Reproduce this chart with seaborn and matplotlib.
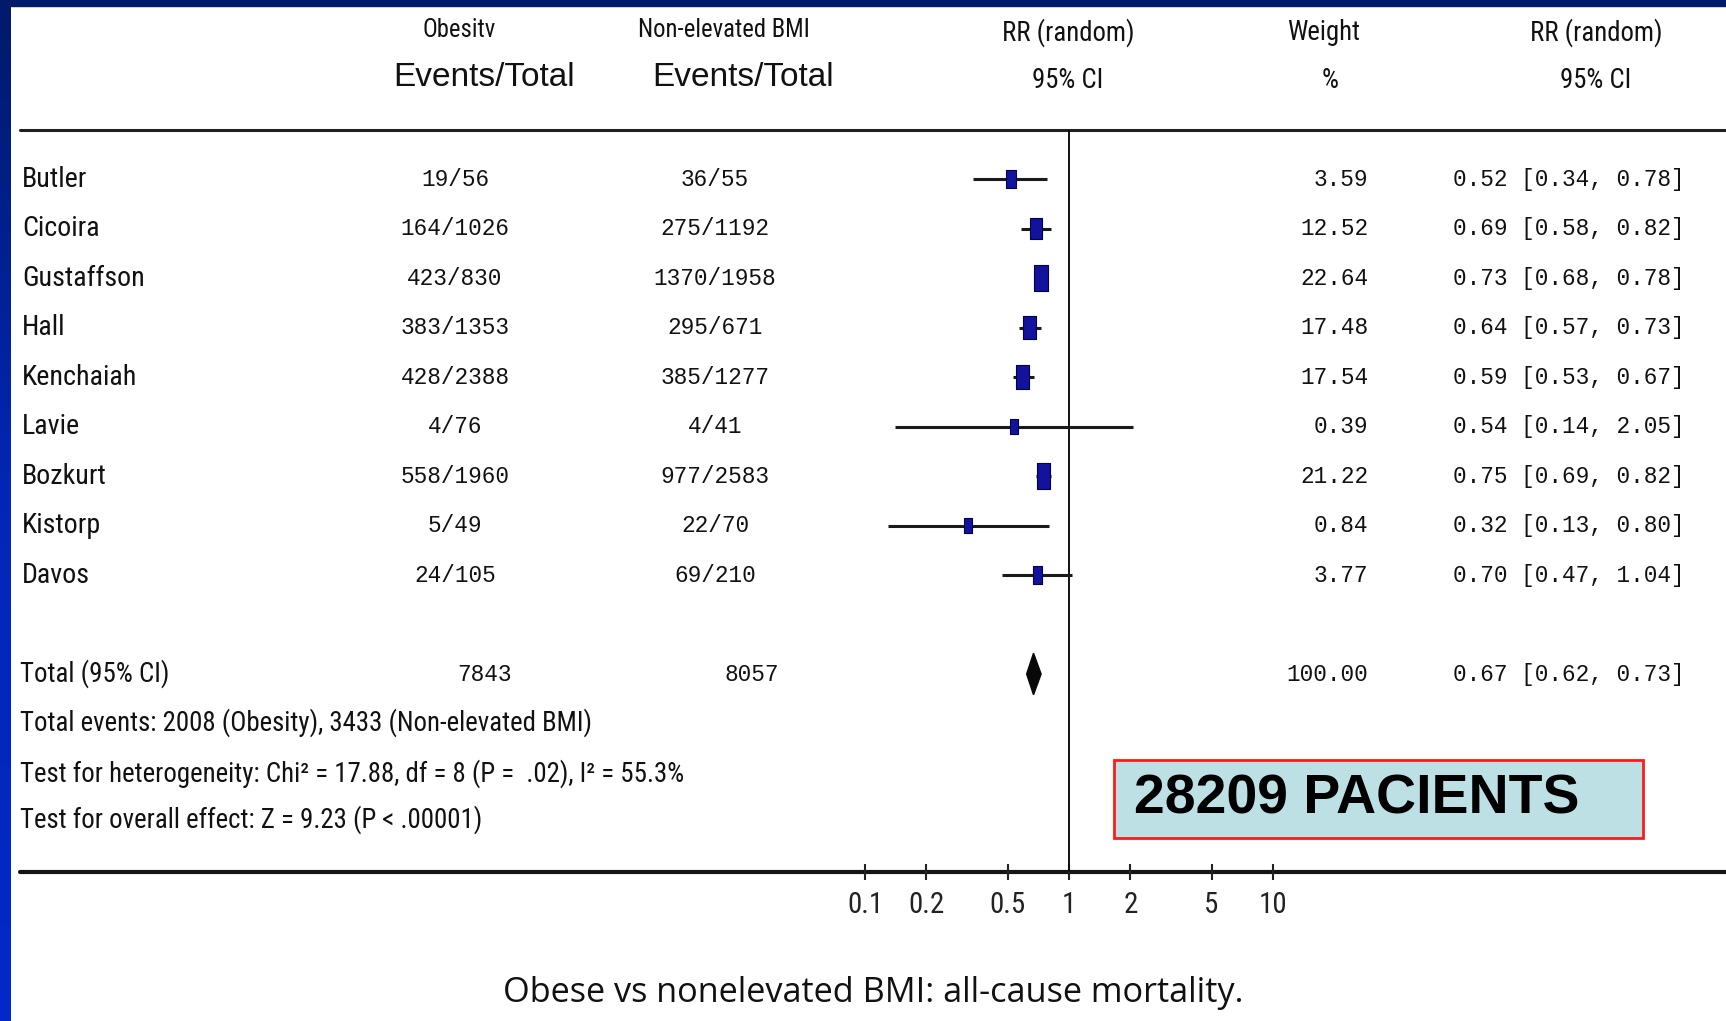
# Forest plot: obese vs non-elevated BMI, all-cause mortality
import numpy as np
import pandas as pd
import seaborn as sns
import matplotlib.pyplot as plt
import matplotlib.transforms as mtransforms
from matplotlib import font_manager as fm
from matplotlib.path import Path
from matplotlib.patches import Rectangle
from matplotlib.colors import LinearSegmentedColormap

sns.set_theme(style="white")

# data
studies = ['Butler', 'Cicoira', 'Gustaffson', 'Hall', 'Kenchaiah', 'Lavie', 'Bozkurt', 'Kistorp', 'Davos']
obese_events = ['19/56', '164/1026', '423/830', '383/1353', '428/2388', '4/76', '558/1960', '5/49', '24/105']
normal_events = ['36/55', '275/1192', '1370/1958', '295/671', '385/1277', '4/41', '977/2583', '22/70', '69/210']
weights = [3.59, 12.52, 22.64, 17.48, 17.54, 0.39, 21.22, 0.84, 3.77]
rr = [0.52, 0.69, 0.73, 0.64, 0.59, 0.54, 0.75, 0.32, 0.70]
rr_lo = [0.34, 0.58, 0.68, 0.57, 0.53, 0.14, 0.69, 0.13, 0.47]
rr_hi = [0.78, 0.82, 0.78, 0.73, 0.67, 2.05, 0.82, 0.80, 1.04]
total_obese = '7843'
total_normal = '8057'
total_weight = 100.00
total_rr, total_lo, total_hi = 0.67, 0.62, 0.73
ticks = [0.1, 0.2, 0.5, 1, 2, 5, 10]
tick_labels = ['0.1', '0.2', '0.5', '1', '2', '5', '10']
summary = ['Total events: 2008 (Obesity), 3433 (Non-elevated BMI)',
           'Test for heterogeneity: Chi² = 17.88, df = 8 (P =  .02), I² = 55.3%',
           'Test for overall effect: Z = 9.23 (P < .00001)']
caption = 'Obese vs nonelevated BMI: all-cause mortality.'
box_text = '28209 PACIENTS'

df = pd.DataFrame({'study': studies, 'rr': rr, 'lo': rr_lo, 'hi': rr_hi, 'weight': weights})
df['row'] = np.arange(len(df))
total_row = len(df) + 1


# pick a condensed sans if one is around
def pick_narrow():
    for fam in ['Liberation Sans Narrow', 'Roboto Condensed', 'Noto Sans Condensed',
                'Open Sans Condensed', 'DejaVu Sans Condensed', 'Arial Narrow']:
        try:
            fm.findfont(fm.FontProperties(family=fam), fallback_to_default=False)
            return fam, 'normal'
        except Exception:
            pass
    for fam in ['Noto Sans', 'DejaVu Sans', 'Open Sans', 'Roboto']:
        try:
            p = fm.findfont(fm.FontProperties(family=fam, stretch='condensed'), fallback_to_default=False)
            if 'ondensed' in p or 'arrow' in p:
                return fam, 'condensed'
        except Exception:
            pass
    return 'Liberation Sans', 'normal'


narrow_fam, narrow_stretch = pick_narrow()
NARROW = [narrow_fam, 'DejaVu Sans']
MONO = ['Liberation Mono', 'DejaVu Sans Mono']
SANS = ['Liberation Sans', 'DejaVu Sans']
CAP = ['Open Sans', 'DejaVu Sans']
plt.rcParams['font.family'] = NARROW

W, H = 1726, 1021
fig = plt.figure(figsize=(W / 100, H / 100), dpi=100)
fig.patch.set_facecolor('white')
renderer = fig.canvas.get_renderer()


def size_for(s, family, target_px, weight='normal', stretch='normal'):
    fp = fm.FontProperties(family=family, size=10, weight=weight, stretch=stretch)
    w, _, _ = renderer.get_text_width_height_descent(s, fp, ismath=False)
    return 10 * target_px / w


fs_name = size_for('Kenchaiah', NARROW, 115, stretch=narrow_stretch)
fs_sum = size_for(summary[1], NARROW, 660, stretch=narrow_stretch)
fs_hdr = size_for('RR (random)', NARROW, 132, stretch=narrow_stretch)
fs_tick = size_for('0.5', NARROW, 36, stretch=narrow_stretch)
fs_ev = size_for('Events/Total', SANS, 182)
fs_cap = size_for(caption, CAP, 742)
fs_box = size_for(box_text, SANS, 443, weight='bold')
fs_num = size_for('164/1026', MONO, 110)

# background axes in pixel units
bg = fig.add_axes([0, 0, 1, 1])
bg.set_xlim(0, W)
bg.set_ylim(H, 0)
bg.axis('off')

# blue frame
grad = np.linspace(0, 1, 256).reshape(-1, 1)
cmap = LinearSegmentedColormap.from_list('frame', ['#011a6a', '#0227b8', '#0229c8'])
bg.imshow(grad, cmap=cmap, extent=(0, 10, H, 0), aspect='auto', zorder=5)
bg.add_patch(Rectangle((0, 0), W, 6, color='#011a6a', zorder=6))

# rule lines
bg.plot([20, W], [130, 130], color='#202020', lw=2.2)
bg.plot([20, W], [872, 872], color='#151515', lw=3)

# forest axes
y_top, y_bot = 130, 872
row0, dy = 179, 49.5
ax = fig.add_axes([865 / W, 1 - y_bot / H, 408 / W, (y_bot - y_top) / H])
ax.set_xscale('log')
ax.set_xlim(0.1, 10)
ax.set_ylim((y_bot - row0) / dy, (y_top - row0) / dy)
ax.patch.set_alpha(0)
for s in ax.spines.values():
    s.set_visible(False)
ax.axvline(1, color='#111111', lw=1.4, zorder=1)
ax.hlines(df['row'], df['lo'], df['hi'], color='#1a1a1a', lw=2.2, zorder=2)
rect = Path([(-0.27, -0.5), (0.27, -0.5), (0.27, 0.5), (-0.27, 0.5), (-0.27, -0.5)], closed=True)
sns.scatterplot(data=df, x='rr', y='row', size='weight', sizes=(117, 350), marker=rect,
                color='#12129c', edgecolor='#000050', linewidth=0.8, legend=False, ax=ax, zorder=3)
ax.fill([total_lo, total_rr, total_hi, total_rr],
        [total_row, total_row - 0.42, total_row, total_row + 0.42], color='#080808', zorder=3)
ax.set_xticks(ticks)
ax.set_xticklabels(tick_labels, fontsize=fs_tick, family=NARROW, fontstretch=narrow_stretch, color='#222222')
ax.minorticks_off()
ax.set_yticks([])
ax.tick_params(axis='x', direction='inout', length=12, width=1.5, color='#222222', pad=8, bottom=True)
ax.set_xlabel('')
ax.set_ylabel('')

txt = '#111111'
nkw = dict(family=NARROW, fontstretch=narrow_stretch, color=txt)
mkw = dict(family=MONO, fontsize=fs_num, color=txt, va='center')

# row texts: x in pixels, y in row units
tr = mtransforms.blended_transform_factory(bg.transData, ax.transData)
for i, r in df.iterrows():
    y = r['row']
    bg.text(22, y, r['study'], transform=tr, fontsize=fs_name, va='center', ha='left', **nkw)
    bg.text(455, y, obese_events[i], transform=tr, ha='center', **mkw)
    bg.text(715, y, normal_events[i], transform=tr, ha='center', **mkw)
    bg.text(1368, y, f"{r['weight']:.2f}", transform=tr, ha='right', **mkw)
    bg.text(1453, y, f"{r['rr']:.2f} [{r['lo']:.2f}, {r['hi']:.2f}]", transform=tr, ha='left', **mkw)

# total row
bg.text(20, total_row, 'Total (95% CI)', transform=tr, fontsize=fs_sum, va='center', ha='left', **nkw)
bg.text(484, total_row, total_obese, transform=tr, ha='center', **mkw)
bg.text(752, total_row, total_normal, transform=tr, ha='center', **mkw)
bg.text(1368, total_row, f"{total_weight:.2f}", transform=tr, ha='right', **mkw)
bg.text(1453, total_row, f"{total_rr:.2f} [{total_lo:.2f}, {total_hi:.2f}]", transform=tr, ha='left', **mkw)

# summary lines
for yy, s in zip([723, 774, 820], summary):
    bg.text(20, yy, s, fontsize=fs_sum, va='center', ha='left', **nkw)

# headers
bg.text(459, 30, 'Obesitv', fontsize=fs_hdr * 0.92, va='center', ha='center', **nkw)
bg.text(484, 77, 'Events/Total', fontsize=fs_ev, family=SANS, va='center', ha='center', color=txt)
bg.text(724, 30, 'Non-elevated BMI', fontsize=fs_hdr * 0.92, va='center', ha='center', **nkw)
bg.text(743, 77, 'Events/Total', fontsize=fs_ev, family=SANS, va='center', ha='center', color=txt)
bg.text(1068, 33, 'RR (random)', fontsize=fs_hdr, va='center', ha='center', **nkw)
bg.text(1068, 80, '95% CI', fontsize=fs_hdr, va='center', ha='center', **nkw)
bg.text(1324, 33, 'Weight', fontsize=fs_hdr, va='center', ha='center', **nkw)
bg.text(1330, 80, '%', fontsize=fs_hdr, va='center', ha='center', **nkw)
bg.text(1596, 33, 'RR (random)', fontsize=fs_hdr, va='center', ha='center', **nkw)
bg.text(1596, 80, '95% CI', fontsize=fs_hdr, va='center', ha='center', **nkw)

# patients box
bg.add_patch(Rectangle((1114, 760), 529, 78, facecolor='#bce0e4', edgecolor='#ff1a1a', lw=2, zorder=4))
bg.text(1134, 799, box_text, fontsize=fs_box, family=SANS, fontweight='bold',
        va='center', ha='left', color='black', zorder=5)

# caption
bg.text(873, 993, caption, fontsize=fs_cap, family=CAP, va='center', ha='center', color=txt)

fig.savefig('out.png', dpi=100, facecolor='white')
